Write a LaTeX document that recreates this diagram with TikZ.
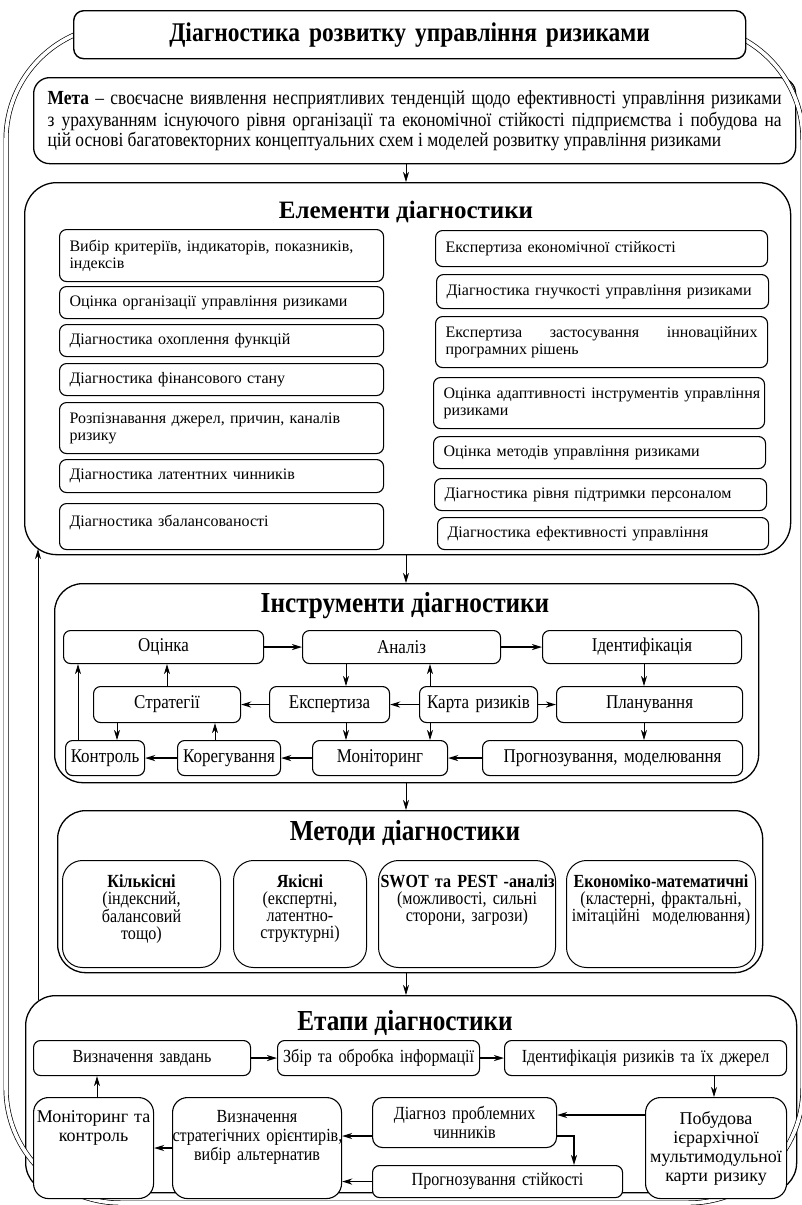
\documentclass[tikz,border=0pt]{standalone}
\usepackage{fontspec}
\setmainfont{Liberation Serif}
\newfontfamily\condf[FakeStretch=0.87]{Liberation Serif}
\usetikzlibrary{arrows.meta}

\newcommand\ftitle{\condf\bfseries\fontsize{27pt}{30pt}\selectfont}
\newcommand\fsec{\condf\bfseries\fontsize{29pt}{32pt}\selectfont}
\newcommand\felemt{\bfseries\fontsize{25pt}{28pt}\selectfont}
\newcommand\felem{\fontsize{16pt}{17pt}\selectfont}
\newcommand\fmeta{\condf\fontsize{20pt}{18pt}\selectfont}
\newcommand\finst{\condf\fontsize{19.5pt}{20pt}\selectfont}
\newcommand\fmeth{\condf\fontsize{18.5pt}{17pt}\selectfont}
\newcommand\fstg{\condf\fontsize{18.5pt}{19pt}\selectfont}
\newcommand\fbig{\fontsize{18pt}{19pt}\selectfont}

% name, x1, y1, x2, y2, style, pad, content
\newcommand\mkbox[8]{%
  \pgfmathsetmacro\bxw{#4-#2}%
  \pgfmathsetmacro\bxh{#5-#3}%
  \pgfmathsetmacro\bxtw{#4-#2-2*#7}%
  \node[#6, anchor=north west, minimum width=\bxw pt, minimum height=\bxh pt,
        text width=\bxtw pt, inner xsep=#7pt, inner ysep=0pt] (#1) at (#2,#3) {#8};}
\newcommand\toptext[2]{\parbox[c][\bxh pt][t]{\bxtw pt}{\vspace*{#1}\centering #2\par}}

\tikzset{
  bx/.style={draw=black, line width=1.1pt, rounded corners=7pt, fill=white},
  sec/.style={bx, line width=1.3pt, rounded corners=30pt},
  el/.style={bx, align=left, font=\felem},
  ins/.style={bx, align=center, font=\finst},
  mb/.style={bx, rounded corners=20pt, line width=1pt, align=center, font=\fmeth},
  stb/.style={bx, align=center, font=\fstg},
  arr/.style={-{Stealth[length=10pt,width=6pt,inset=3pt]}, line width=0.8pt},
  tarr/.style={arr, line width=1.7pt},
}

\begin{document}
\begin{tikzpicture}[x=1pt,y=-1pt]
\useasboundingbox (0,0) rectangle (801,1205);

% ---------- section boxes ----------
\mkbox{meta}{33}{77}{795}{163}{sec, rounded corners=16pt, align=justify, font=\fmeta}{14}{\vspace*{3pt}\textbf{Мета} – своєчасне виявлення несприятливих тенденцій щодо ефективності управління ризиками\linebreak з урахуванням існуючого рівня організації та економічної стійкості підприємства і побудова на\linebreak цій основі багатовекторних концептуальних схем і моделей розвитку управління ризиками}
\mkbox{elem}{24}{182}{790}{554}{sec, rounded corners=32pt}{0}{}
\mkbox{inst}{54}{583}{758}{782}{sec, rounded corners=28pt}{0}{}
\mkbox{meth}{57}{810}{762}{972}{sec, rounded corners=28pt}{0}{}
\mkbox{stg}{25}{995}{796}{1192}{sec, rounded corners=30pt}{0}{}

% ---------- outer double frame ----------
\draw[line width=0.7pt, double=white, double distance=3.6pt, rounded corners=115pt] (6,25) rectangle (803,1203);

% ---------- title ----------
\mkbox{title}{73}{10}{745}{58}{bx, rounded corners=10pt, line width=1.4pt, align=center, font=\ftitle}{4}{Діагностика розвитку управління ризиками}

% ---------- section titles ----------
\node[font=\felemt] (elemT) at (406,212) {Елементи діагностики};
\node[font=\fsec] (instT) at (405,606) {Інструменти діагностики};
\node[font=\fsec] (methT) at (405,833) {Методи діагностики};
\node[font=\fsec] (stgT) at (405,1023) {Етапи діагностики};

% ---------- elements ----------
\mkbox{e1}{59}{229}{383}{281}{el}{10}{\mbox{Вибір критеріїв, індикаторів, показників,}\\індексів}
\mkbox{e2}{59}{286}{383}{318}{el}{10}{\mbox{Оцінка організації управління ризиками}}
\mkbox{e3}{59}{324}{383}{356}{el}{10}{Діагностика охоплення функцій}
\mkbox{e4}{59}{363}{383}{395}{el}{10}{Діагностика фінансового стану}
\mkbox{e5}{59}{402}{383}{453}{el}{10}{Розпізнавання джерел, причин, каналів\\ризику}
\mkbox{e6}{59}{459}{383}{492}{el}{10}{Діагностика латентних чинників}
\mkbox{e7}{59}{503}{383}{549}{el}{10}{Діагностика збалансованості\vspace{8pt}}
\mkbox{r1}{435}{230}{767}{266}{el}{10}{Експертиза економічної стійкості}
\mkbox{r2}{436}{274}{768}{308}{el}{10}{\mbox{Діагностика гнучкості управління ризиками}}
\mkbox{r3}{435}{316}{767}{367}{el, align=justify}{10}{Експертиза застосування інноваційних\linebreak програмних рішень}
\mkbox{r4}{433}{377}{764}{428}{el}{10}{\mbox{Оцінка адаптивності інструментів управління}\\ризиками}
\mkbox{r5}{433}{436}{765}{468}{el}{10}{Оцінка методів управління ризиками}
\mkbox{r6}{434}{478}{766}{510}{el}{10}{Діагностика рівня підтримки персоналом}
\mkbox{r7}{437}{517}{768}{549}{el}{10}{Діагностика ефективності управління}

% ---------- instruments ----------
\mkbox{io}{63}{630}{263}{663}{ins}{2}{Оцінка}
\mkbox{ia}{302}{630}{500}{663}{ins}{2}{Аналіз}
\mkbox{ii}{542}{630}{741}{663}{ins}{2}{Ідентифікація}
\mkbox{is}{93}{686}{240}{722}{ins}{2}{Стратегії}
\mkbox{ie}{269}{686}{389}{722}{ins}{2}{Експертиза}
\mkbox{ik}{419}{686}{537}{722}{ins}{2}{Карта ризиків}
\mkbox{ip}{556}{686}{742}{722}{ins}{2}{Планування}
\mkbox{ikon}{65}{740}{144}{775}{ins}{1}{Контроль}
\mkbox{ikor}{177}{740}{280}{775}{ins}{1}{Корегування}
\mkbox{im}{312}{740}{447}{775}{ins}{2}{Моніторинг}
\mkbox{ipr}{482}{740}{742}{775}{ins}{2}{Прогнозування, моделювання}

% ---------- methods ----------
\mkbox{mk}{62}{860}{220}{967}{mb}{2}{\toptext{14pt}{\textbf{Кількісні}\\(індексний,\\балансовий\\тощо)}}
\mkbox{my}{233}{860}{366}{967}{mb}{2}{\toptext{14pt}{\textbf{Якісні}\\(експертні,\\латентно-\\структурні)}}
\mkbox{ms}{378}{860}{555}{967}{mb}{2}{\toptext{14pt}{\mbox{\textbf{SWOT та PEST -аналіз}}\\(можливості, сильні\\сторони, загрози)}}
\mkbox{me}{566}{860}{755}{967}{mb}{2}{\toptext{14pt}{\mbox{\textbf{Економіко-математичні}}\\(кластерні, фрактальні,\\імітаційні\ \ моделювання)}}

% ---------- stages ----------
\mkbox{s1}{33}{1040}{250}{1075}{stb}{2}{Визначення завдань}
\mkbox{s2}{277}{1040}{479}{1075}{stb}{2}{Збір та обробка інформації}
\mkbox{s3}{504}{1040}{786}{1075}{stb}{2}{Ідентифікація ризиків та їх джерел}
\mkbox{smk}{33}{1097}{153}{1198}{stb, rounded corners=15pt, font=\fbig}{2}{\toptext{13pt}{Моніторинг та\\контроль}}
\mkbox{svs}{172}{1097}{341}{1198}{stb, rounded corners=15pt}{0}{\toptext{13pt}{Визначення\\\mbox{стратегічних орієнтирів,}\\вибір альтернатив}}
\mkbox{sdp}{372}{1097}{556}{1147}{stb, rounded corners=10pt}{2}{Діагноз проблемних\\чинників}
\mkbox{spr}{372}{1165}{622}{1197}{stb}{2}{Прогнозування стійкості}
\mkbox{spb}{645}{1097}{786}{1198}{stb, rounded corners=15pt, font=\fbig}{0}{Побудова\\ієрархічної\\мультимодульної\\карти ризику}

% ---------- helper coordinates ----------
\coordinate (cx) at (406,0);
\coordinate (c78) at (78,0);
\coordinate (c117) at (117,0);
\coordinate (c167) at (167,0);
\coordinate (c215) at (215,0);
\coordinate (c346) at (346,0);
\coordinate (c430) at (430,0);
\coordinate (c644) at (644,0);
\coordinate (c714) at (714,0);
\coordinate (c574) at (574,0);
\coordinate (c97) at (97,0);
\coordinate (y1115) at (0,1115);
\coordinate (y1136) at (0,1136);
\coordinate (y1148) at (0,1148);
\coordinate (fbS) at (38,1000);
\coordinate (fbE) at (38,549);

% ---------- section arrows ----------
\draw[arr] (meta.south -| cx) -- (elem.north -| cx);
\draw[arr] (elem.south -| cx) -- (inst.north -| cx);
\draw[arr] (inst.south -| cx) -- (meth.north -| cx);
\draw[arr] (meth.south -| cx) -- (stg.north -| cx);
\draw[arr] (fbS) -- (fbE);

% ---------- instrument arrows ----------
\draw[tarr] (io.east) -- (ia.west);
\draw[tarr] (ia.east) -- (ii.west);
\draw[arr] (ii.south -| c644) -- (ip.north -| c644);
\draw[arr] (ip.south -| c644) -- (ipr.north -| c644);
\draw[tarr] (ipr.west) -- (im.east);
\draw[tarr] (im.west) -- (ikor.east);
\draw[tarr] (ikor.west) -- (ikon.east);
\draw[arr] (ikon.north -| c78) -- (io.south -| c78);
\draw[arr] (is.north -| c167) -- (io.south -| c167);
\draw[arr] (is.south -| c117) -- (ikon.north -| c117);
\draw[arr] (ikor.north -| c215) -- (is.south -| c215);
\draw[tarr] (ie.west) -- (is.east);
\draw[tarr] (ik.west) -- (ie.east);
\draw[tarr] (ik.east) -- (ip.west);
\draw[arr] (ia.south -| c346) -- (ie.north -| c346);
\draw[arr] (ik.north -| c430) -- (ia.south -| c430);
\draw[arr] (ie.south -| c346) -- (im.north -| c346);
\draw[arr] (ik.south -| c430) -- (im.north -| c430);

% ---------- stage arrows ----------
\draw[tarr] (s1.east) -- (s2.west);
\draw[tarr] (s2.east) -- (s3.west);
\draw[arr] (s3.south -| c714) -- (spb.north -| c714);
\draw[tarr] (spb.west |- y1115) -- (sdp.east |- y1115);
\draw[tarr] (sdp.west |- y1136) -- (svs.east |- y1136);
\draw[tarr] (svs.west |- y1148) -- (smk.east |- y1148);
\draw[tarr] (sdp.east |- y1136) -| (spr.north -| c574);
\draw[tarr] (spr.west) -- (svs.east |- spr.west);
\draw[arr] (smk.north -| c97) -- (s1.south -| c97);
\end{tikzpicture}
\end{document}
